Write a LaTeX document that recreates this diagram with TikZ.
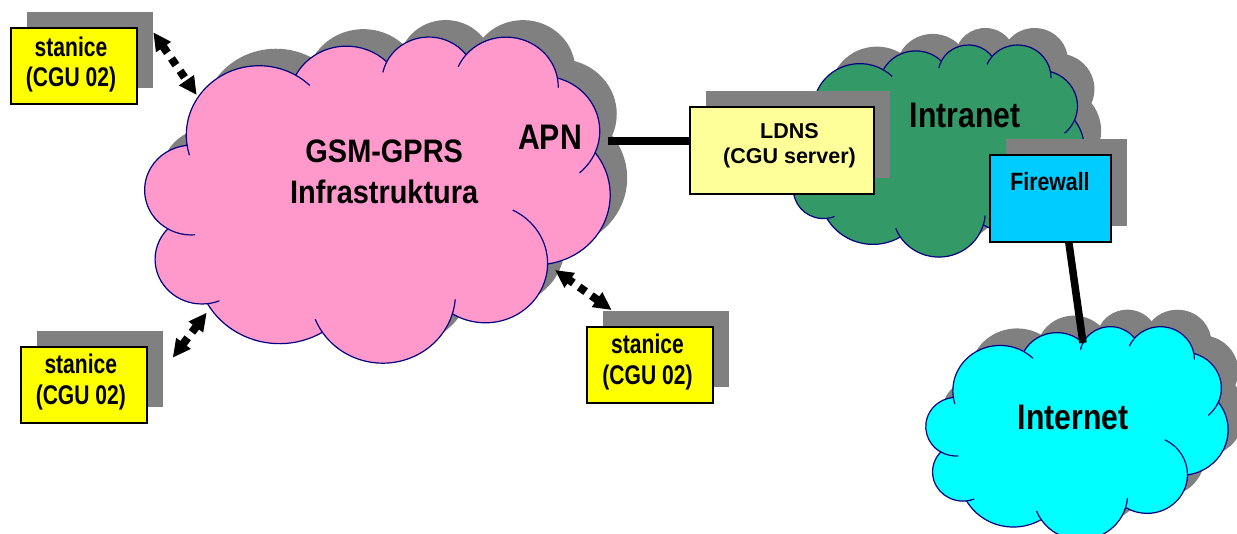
\documentclass[tikz,border=0pt]{standalone}
\usepackage{fontspec}
\setmainfont{Liberation Sans}
\newfontfamily\fbig{Liberation Sans}[FakeStretch=0.85]
\newfontfamily\fgsm{Liberation Sans}[FakeStretch=0.89]
\newfontfamily\fsta{Liberation Sans}[FakeStretch=0.78]
\usetikzlibrary{arrows.meta,shadows,calc}

\definecolor{cloudblue}{HTML}{000080}
\definecolor{shadowgray}{HTML}{808080}
\definecolor{gsmpink}{HTML}{FF99CC}
\definecolor{intragreen}{HTML}{339966}
\definecolor{inetcyan}{HTML}{00FFFF}
\definecolor{stayellow}{HTML}{FFFF00}
\definecolor{ldnsyellow}{HTML}{FFFF99}
\definecolor{fwblue}{HTML}{00CCFF}

% Cloud outline in a 432 x 432 frame (y pointing down); junctions get names
\newcommand\cloudpath[1]{%
  (39,143.7) coordinate (#1-j0)
  arc[x radius=67.53, y radius=91.90, start angle=-187.75, delta angle=128.12] coordinate (#1-j1)
  arc[x radius=53.33, y radius=72.67, start angle=-152.03, delta angle=106.57] coordinate (#1-j2)
  arc[x radius=43.65, y radius=59.45, start angle=-153.49, delta angle=116.16] coordinate (#1-j3)
  arc[x radius=48.57, y radius=65.95, start angle=-139.71, delta angle=129.50] coordinate (#1-j4)
  arc[x radius=53.33, y radius=72.73, start angle=-74.77, delta angle=97.98] coordinate (#1-j5)
  arc[x radius=67.75, y radius=92.20, start angle=-37.52, delta angle=119.38] coordinate (#1-j6)
  arc[x radius=57.85, y radius=78.67, start angle=0.46, delta angle=121.51] coordinate (#1-j7)
  arc[x radius=67.52, y radius=92.15, start angle=16.84, delta angle=129.39] coordinate (#1-j8)
  arc[x radius=77.20, y radius=105.43, start angle=58.98, delta angle=91.20] coordinate (#1-j9)
  arc[x radius=43.60, y radius=59.18, start angle=-276.69, delta angle=139.80] coordinate (#1-j10)
  arc[x radius=43.45, y radius=59.45, start angle=-239.65, delta angle=143.76]
  -- cycle}

% Short inner strokes where one lobe runs on past a junction
\newcommand\clouddetail[1]{%
  (#1-j0) arc[x radius=67.53, y radius=91.90, start angle=172.25, delta angle=-9.06]
  (#1-j1) arc[x radius=67.53, y radius=91.90, start angle=-59.63, delta angle=13.89]
  (#1-j2) arc[x radius=43.65, y radius=59.45, start angle=-153.49, delta angle=-14.23]
  (#1-j3) arc[x radius=48.57, y radius=65.95, start angle=-139.71, delta angle=-16.56]
  (#1-j4) arc[x radius=48.57, y radius=65.95, start angle=-10.21, delta angle=11.03]
  (#1-j5) arc[x radius=53.33, y radius=72.73, start angle=23.21, delta angle=26.42]
  (#1-j6) arc[x radius=57.85, y radius=78.67, start angle=0.46, delta angle=-64.49]
  (#1-j7) arc[x radius=67.52, y radius=92.15, start angle=16.84, delta angle=-12.10]
  (#1-j8) arc[x radius=67.52, y radius=92.15, start angle=146.23, delta angle=12.24]
  (#1-j9) arc[x radius=43.60, y radius=59.18, start angle=83.31, delta angle=-15.07]
  (#1-j10) arc[x radius=43.45, y radius=59.45, start angle=120.35, delta angle=-34.81]}

% #1 name, #2 left, #3 top, #4 width, #5 height
\newcommand\cloudshadow[5]{%
  \pgfmathsetmacro\cldx{#4/432}\pgfmathsetmacro\cldy{#5/432}%
  \begin{scope}[shift={(#2+17,#3-17)}, x=\cldx pt, y=-\cldy pt]
    \fill[shadowgray] \cloudpath{#1-sh};
  \end{scope}}
% same arguments, #6 fill colour
\newcommand\cloudbody[6]{%
  \pgfmathsetmacro\cldx{#4/432}\pgfmathsetmacro\cldy{#5/432}%
  \begin{scope}[shift={(#2,#3)}, x=\cldx pt, y=-\cldy pt]
    \draw[cloudline, fill=#6] \cloudpath{#1};
    \draw[cloudline] \clouddetail{#1};
  \end{scope}}

\begin{document}
\begin{tikzpicture}[x=1pt, y=-1pt,
  cloudline/.style={draw=cloudblue, line width=1.2pt, line join=round},
  boxshadow/.style={drop shadow={shadow xshift=16pt, shadow yshift=16pt,
      fill=shadowgray, opacity=1}},
  plainbox/.style={rectangle, draw=black, line width=2pt, inner sep=0pt, boxshadow},
  stabox/.style={plainbox, fill=stayellow, minimum width=125.7pt, minimum height=76.3pt},
  ldnsbox/.style={plainbox, fill=ldnsyellow, minimum width=183.7pt, minimum height=87pt},
  fwbox/.style={plainbox, fill=fwblue, minimum width=120.4pt, minimum height=86.7pt},
  cloudtext/.style={anchor=base, inner sep=0pt, font=\fbig\bfseries\fontsize{35.5}{40}\selectfont},
  gsmtext/.style={align=center, inner sep=0pt, font=\fgsm\bfseries\fontsize{32.5}{40.7}\selectfont},
  statext/.style={align=center, inner sep=0pt, font=\fsta\bfseries\fontsize{27}{30.7}\selectfont},
  ldnstext/.style={align=center, inner sep=0pt, font=\bfseries\fontsize{21.5}{25.7}\selectfont},
  fwtext/.style={anchor=base, inner sep=0pt, font=\fbig\bfseries\fontsize{25}{30}\selectfont},
  wire/.style={draw=black, line width=7.5pt},
  radiolink/.style={draw=black, line width=8pt, dash pattern=on 8pt off 7pt,
      {Triangle[length=18pt,width=17pt]}-{Triangle[length=18pt,width=17pt]}}]

\useasboundingbox (0,0) rectangle (1237,534);

% Intranet cloud with the LDNS server and the firewall on it
\cloudshadow{intra}{787}{44.3}{297}{212}
\cloudbody{intra}{787}{44.3}{297}{212}{intragreen}
\node[ldnsbox] (ldns) at (782.15,150.5) {};
\node[fwbox] (fw) at (1050.5,198.35) {};

% Internet cloud and its link to the firewall
\cloudshadow{inet}{926}{326}{302}{213}
\cloudbody{inet}{926}{326}{302}{213}{inetcyan}
\coordinate (fwout) at ($(fw.south east)!0.7!(fw.south)$);
\draw[wire] (fwout) -- (inet-j2);

% GSM-GPRS cloud
\cloudshadow{gsm}{145}{36}{465}{326}
\cloudbody{gsm}{145}{36}{465}{326}{gsmpink}

% APN to LDNS
\coordinate (apnout) at (608,141);
\draw[wire] (apnout) -- (apnout -| ldns.west);

% stations
\node[stabox] (staA) at (73.85,65.85) {};
\node[stabox] (staB) at (84.2,385.15) {};
\node[stabox] (staC) at (649.85,365.15) {};

% radio links between the stations and the GSM cloud
\coordinate (staA-r) at (153.3,32.3);
\coordinate (gsm-rA) at (196.7,95);
\coordinate (staB-r) at (172.7,357.7);
\coordinate (gsm-rB) at (206.7,312.7);
\coordinate (staC-r) at (611.7,310);
\coordinate (gsm-rC) at (555,270);
\draw[radiolink] (staA-r) -- (gsm-rA);
\draw[radiolink] (staB-r) -- (gsm-rB);
\draw[radiolink] (staC-r) -- (gsm-rC);

% labels
\node[gsmtext] (gsmlabel) at (384.2,171.95) {GSM-GPRS\\Infrastruktura};
\node[cloudtext] (apn) at (550,150) {APN};
\node[cloudtext] (intralabel) at (965,127.3) {Intranet};
\node[cloudtext] (inetlabel) at (1073.3,429.3) {Internet};
\node[ldnstext] (ldnslabel) at (789.5,145.65) {LDNS\\(CGU server)};
\node[fwtext] (fwlabel) at (1050,190.7) {Firewall};
\node[statext] (staA-t) at (71,64.55) {stanice\\(CGU 02)};
\node[statext] (staB-t) at (80.8,381.9) {stanice\\(CGU 02)};
\node[statext] (staC-t) at (647.5,361.9) {stanice\\(CGU 02)};
\end{tikzpicture}
\end{document}
